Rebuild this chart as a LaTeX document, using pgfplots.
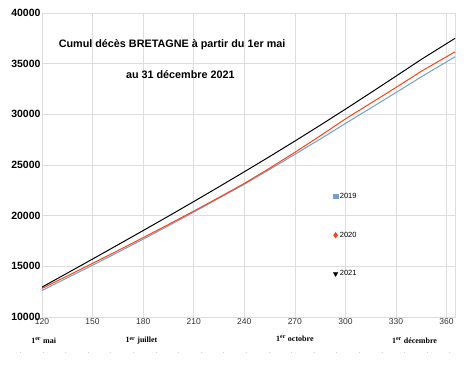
\documentclass[border=0pt]{standalone}
\usepackage{pgfplots}
\pgfplotsset{compat=1.18}
\usepackage{fontspec}
\setmainfont{Liberation Sans}
\newfontfamily\serifbold{Liberation Serif}
\definecolor{c19}{RGB}{114,159,207}
\definecolor{c20}{RGB}{255,66,14}
\definecolor{gridc}{RGB}{221,221,221}
\begin{document}
\begin{tikzpicture}
\useasboundingbox (-42pt,-48pt) rectangle (424pt,317pt);
\begin{axis}[
  scale only axis, width=413pt, height=304pt,
  xmin=120, xmax=365, ymin=10000, ymax=40000,
  xtick={120,150,...,360}, ytick={10000,15000,...,40000},
  scaled ticks=false,
  grid=major, major grid style={gridc, line width=0.6pt},
  axis line style={gridc, line width=0.6pt},
  tick style={draw=none},
  /pgf/number format/assume math mode=true,
  /pgf/number format/1000 sep={},
  yticklabel style={font=\fontsize{10.5}{12}\selectfont\bfseries, xshift=2pt},
  xticklabel style={font=\fontsize{8.5}{10}\selectfont, text=black!80, yshift=2pt},
  clip=false,
  legend style={draw=none, fill=none, at={(0.705,0.415)}, anchor=north west,
    row sep=28pt, font=\fontsize{7.5}{9}\selectfont, inner sep=0pt},
  legend cell align=left,
]
\addplot[c19, line width=1pt, forget plot] coordinates {
(120,12620) (135,13860) (150,15110) (165,16380) (180,17680) (195,19000) (210,20350) (225,21730) (240,23100) (255,24560) (270,26050) (285,27550) (300,29100) (315,30620) (330,32150) (345,33700) (365,35680)};
\addplot[c20, line width=1pt, forget plot] coordinates {
(120,12820) (135,14050) (150,15290) (165,16550) (180,17830) (195,19130) (210,20450) (225,21800) (240,23180) (255,24680) (270,26250) (285,27870) (300,29550) (315,31100) (330,32650) (345,34250) (365,36170)};
\addplot[black, line width=1pt, forget plot] coordinates {
(120,12950) (135,14330) (150,15720) (165,17120) (180,18530) (195,19950) (210,21390) (225,22850) (240,24330) (255,25830) (270,27360) (285,28920) (300,30510) (315,32130) (330,33770) (345,35420) (365,37500)};
\addlegendimage{only marks, mark=square*, mark size=2.2pt, c19}
\addlegendentry{2019}
\addlegendimage{only marks, mark=diamond*, mark size=2.8pt, c20}
\addlegendentry{2020}
\addlegendimage{only marks, mark=triangle*, mark options={rotate=180}, mark size=2.6pt, black}
\addlegendentry{2021}
\node[font=\fontsize{10.8}{12}\selectfont\bfseries] at (axis description cs:0.315,0.895) {Cumul décès BRETAGNE à partir du 1er mai};
\node[font=\fontsize{10.8}{12}\selectfont\bfseries] at (axis description cs:0.335,0.799) {au 31 décembre 2021};
\node[font=\serifbold\fontsize{8}{9}\selectfont\bfseries] at (axis cs:121,10000) [yshift=-24pt] {1\textsuperscript{er} mai};
\node[font=\serifbold\fontsize{8}{9}\selectfont\bfseries] at (axis cs:179,10000) [yshift=-24pt] {1\textsuperscript{er} juillet};
\node[font=\serifbold\fontsize{8}{9}\selectfont\bfseries] at (axis cs:270,10000) [yshift=-22pt] {1\textsuperscript{er} octobre};
\node[font=\serifbold\fontsize{8}{9}\selectfont\bfseries] at (axis cs:341,10000) [yshift=-24pt] {1\textsuperscript{er} décembre};
\end{axis}
\draw[gray!35, line width=0.5pt, dash pattern=on 0.6pt off 22pt] (-22pt,-35pt) -- (412pt,-35pt);
\end{tikzpicture}
\end{document}
